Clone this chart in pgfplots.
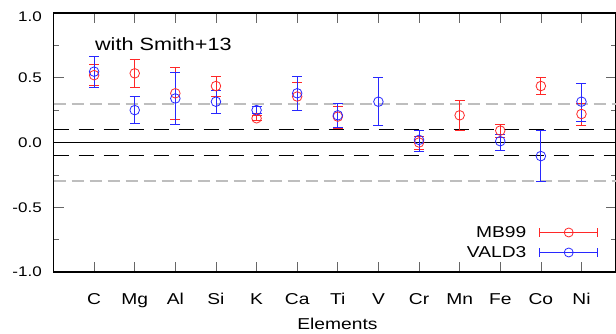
\documentclass[border=0pt]{standalone}
\usepackage{fontspec}
\setmainfont{Liberation Sans}[FakeStretch=1.22]
\usepackage{pgfplots}
\usepackage{pgfplotstable}
\pgfplotsset{compat=1.18}
\usetikzlibrary{calc}
\definecolor{cred}{RGB}{255,40,40}
\definecolor{cblue}{RGB}{40,40,255}
\definecolor{cgray}{RGB}{190,190,190}

\pgfplotstableread{
x y ep em
1 0.52 0.08 0.08
2 0.534 0.11 0.111
3 0.38 0.20 0.20
4 0.436 0.075 0.08
5 0.187 0.02 0.02
6 0.355 0.11 0.105
7 0.20 0.08 0.09
9 0.00 0.05 0.05
10 0.21 0.115 0.115
11 0.092 0.05 0.05
12 0.436 0.065 0.065
13 0.22 0.085 0.085
}\mbtable

\pgfplotstableread{
x y ep em
1 0.547 0.12 0.125
2 0.25 0.105 0.105
3 0.34 0.20 0.20
4 0.315 0.09 0.09
5 0.25 0.025 0.025
6 0.38 0.13 0.13
7 0.21 0.09 0.09
8 0.315 0.185 0.185
9 0.02 0.075 0.09
11 0.01 0.05 0.07
12 -0.105 0.195 0.195
13 0.315 0.145 0.155
}\valdtable

\begin{document}
\begin{tikzpicture}
\begin{axis}[
  scale only axis, width=562.5bp, height=259bp,
  xmin=0, xmax=13.85, ymin=-1, ymax=1,
  axis line style={line width=1.4bp},
  xtick={1,...,13},
  xticklabels={C,Mg,Al,Si,K,Ca,Ti,V,Cr,Mn,Fe,Co,Ni},
  ytick={-1,-0.5,0,0.5,1},
  yticklabels={-1.0,-0.5,0.0,0.5,\raisebox{-3.5bp}[\height][\depth]{1.0}},
  minor ytick={-0.75,-0.25,0.25,0.75},
  tick align=inside, major tick length=10bp, minor tick length=5bp,
  tick style={line width=0.7bp, color=black!60},
  x tick label style={font=\fontsize{15.8}{18}\selectfont, anchor=base, inner sep=0pt, yshift=-32bp},
  y tick label style={font=\fontsize{14}{16}\selectfont, anchor=east, inner sep=0pt, xshift=-11.5bp},
  xlabel={Elements},
  xlabel style={font=\fontsize{15.8}{18}\selectfont, at={(axis description cs:0.5,0)}, anchor=base, inner sep=0pt, yshift=-57bp, xshift=2.7bp},
  legend plot pos=right,
  legend cell align=right,
  legend style={draw=none, fill=none, inner sep=0pt, outer sep=0pt,
    at={(axis cs:13.41,-0.6525)}, anchor=north east,
    font=\fontsize{15.8}{18}\selectfont,
    nodes={inner sep=0pt, text height=11bp, text depth=0bp},
    row sep=9bp, column sep=13bp},
  legend image code/.code={
    \draw[#1, mark=none, line width=0.8bp] (0bp,0bp) -- (58bp,0bp);
    \draw[#1, mark=none, line width=0.8bp] (0bp,-4.5bp) -- (0bp,4.5bp);
    \draw[#1, mark=none, line width=0.8bp] (58bp,-4.5bp) -- (58bp,4.5bp);
    \path[#1, mark size=4.5bp, line width=0.8bp] plot coordinates {(29bp,0bp)};
  },
]
\addplot[forget plot, cgray, line width=1.8bp, dash pattern=on 12bp off 6bp] coordinates {(0,0.3) (13.85,0.3)};
\addplot[forget plot, cgray, line width=1.8bp, dash pattern=on 12bp off 6bp] coordinates {(0,-0.3) (13.85,-0.3)};
\addplot[forget plot, black, line width=1.6bp, dash pattern=on 15bp off 10bp] coordinates {(0,0.1) (13.85,0.1)};
\addplot[forget plot, black, line width=1.6bp, dash pattern=on 15bp off 10bp] coordinates {(0,-0.1) (13.85,-0.1)};
\addplot[forget plot, black, line width=1.2bp] coordinates {(0,0) (13.85,0)};

\addplot[cred, only marks, mark=o, mark size=4.8bp, line width=0.8bp,
  error bars/.cd, y dir=both, y explicit,
  error bar style={line width=0.8bp},
  error mark options={rotate=90, mark size=5bp, line width=0.8bp}]
  table[x=x, y=y, y error plus=ep, y error minus=em] {\mbtable};
\addlegendentry{MB99}

\addplot[cblue, only marks, mark=o, mark size=4.8bp, line width=0.8bp,
  error bars/.cd, y dir=both, y explicit,
  error bar style={line width=0.8bp},
  error mark options={rotate=90, mark size=5bp, line width=0.8bp}]
  table[x=x, y=y, y error plus=ep, y error minus=em] {\valdtable};
\addlegendentry{VALD3}

\node[anchor=base west, inner sep=0pt, font=\fontsize{17.8}{20}\selectfont] at (axis cs:1.02,0.7066) {with Smith+13};
\end{axis}
\pgfresetboundingbox
\useasboundingbox ($(current axis.south west)+(-53.5bp,-62bp)$) rectangle ($(current axis.north east)+(0bp,13bp)$);
\end{tikzpicture}
\end{document}
